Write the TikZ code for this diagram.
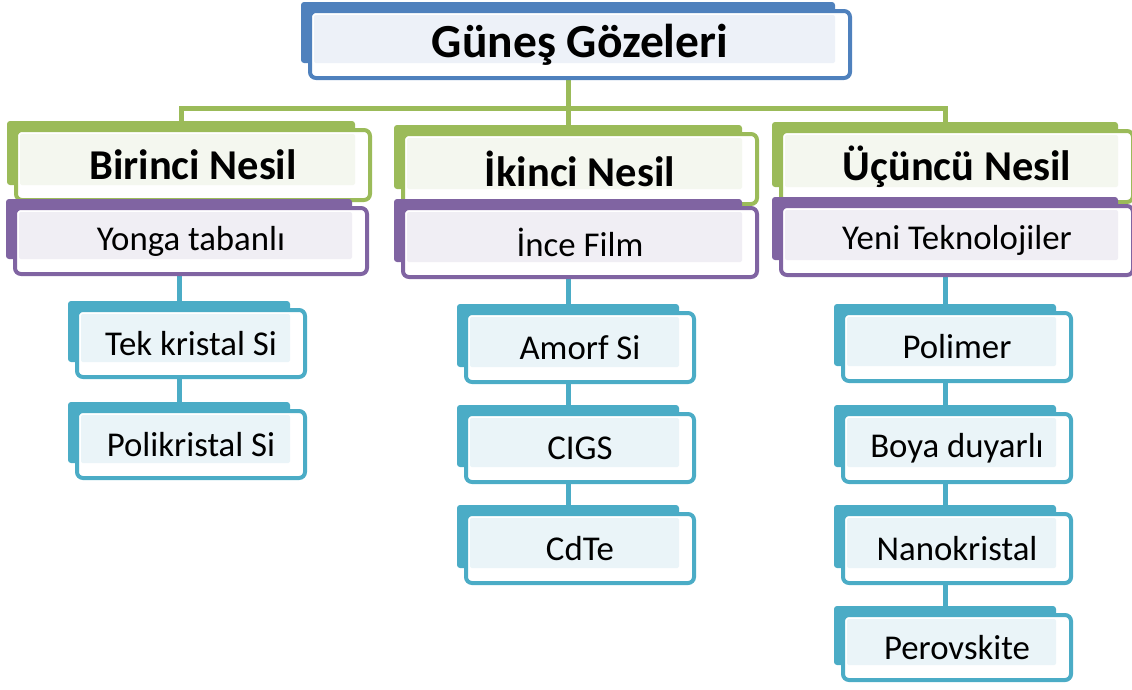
\documentclass[tikz,border=0pt]{standalone}
\usepackage{fontspec}
\setmainfont{Carlito}
\usetikzlibrary{backgrounds}
\definecolor{cBlue}{HTML}{4F81BD}
\definecolor{lBlue}{HTML}{EDF1F8}
\definecolor{cGreen}{HTML}{9BBB59}
\definecolor{lGreen}{HTML}{F4F7EF}
\definecolor{cPurple}{HTML}{8064A2}
\definecolor{lPurple}{HTML}{F0EEF4}
\definecolor{cAqua}{HTML}{4BACC6}
\definecolor{lAqua}{HTML}{EAF4F8}
\newcommand\ftop{\fontsize{47.5}{52}\selectfont\bfseries}
\newcommand\fgen{\fontsize{42.5}{46}\selectfont\bfseries}
\newcommand\fnorm{\fontsize{34.8}{38}\selectfont}
\tikzset{
  backshape/.style={rectangle, rounded corners=3pt, inner sep=0pt, outer sep=0pt},
  frontshape/.style={rectangle, rounded corners=6pt, line width=4pt, fill=white, inner sep=0pt, outer sep=0pt, text=black},
  gline/.style={draw=cGreen, line width=5pt},
  aline/.style={draw=cAqua, line width=5pt},
}
% name, colour, light colour, left, top, right, bottom, text
\newcommand\smbox[8]{%
  \node[backshape, fill=#2, minimum width={(#6-#4)*1pt}, minimum height={(#7-#5)*1pt}] (#1b) at ({(#4+#6)/2},{(#5+#7)/2}) {};
  \node[frontshape, draw=#2, minimum width={(#6-#4+6)*1pt}, minimum height={(#7-#5+6)*1pt},
    path picture={\fill[#3, rounded corners=2pt] ([xshift=4pt,yshift=-4pt]path picture bounding box.north west) rectangle (#1b.south east);}]
    (#1) at ({(#4+#6)/2+12},{(#5+#7)/2+12}) {#8};
}
\begin{document}
\begin{tikzpicture}[x=1pt,y=-1pt]
\useasboundingbox (0,0) rectangle (1132,689);
% top
\smbox{top}{cBlue}{lBlue}{301}{2}{835}{63}{\ftop Güneş Gözeleri}
% generations
\smbox{g1}{cGreen}{lGreen}{7}{121}{355}{185}{\fgen Birinci Nesil}
\smbox{g2}{cGreen}{lGreen}{394}{125}{742}{189}{\fgen İkinci Nesil}
\smbox{g3}{cGreen}{lGreen}{772}{122}{1118}{187}{\fgen Üçüncü Nesil}
% categories
\smbox{p1}{cPurple}{lPurple}{6}{199}{352}{259}{\fnorm Yonga tabanlı}
\smbox{p2}{cPurple}{lPurple}{394}{199}{742}{262}{\fnorm İnce Film}
\smbox{p3}{cPurple}{lPurple}{772}{197}{1118}{260}{\fnorm Yeni Teknolojiler}
% column 1
\smbox{a1}{cAqua}{lAqua}{68}{301}{290}{362}{\fnorm Tek kristal Si}
\smbox{a2}{cAqua}{lAqua}{68}{402}{290}{463}{\fnorm Polikristal Si}
% column 2
\smbox{b1}{cAqua}{lAqua}{457}{304}{679}{367}{\fnorm Amorf Si}
\smbox{b2}{cAqua}{lAqua}{457}{405}{679}{467}{\fnorm CIGS}
\smbox{b3}{cAqua}{lAqua}{457}{505}{679}{568}{\fnorm CdTe}
% column 3
\smbox{c1}{cAqua}{lAqua}{834}{304}{1056}{366}{\fnorm Polimer}
\smbox{c2}{cAqua}{lAqua}{834}{405}{1056}{467}{\fnorm Boya duyarlı}
\smbox{c3}{cAqua}{lAqua}{834}{505}{1056}{568}{\fnorm Nanokristal}
\smbox{c4}{cAqua}{lAqua}{834}{606}{1056}{665}{\fnorm Perovskite}
\begin{pgfonlayer}{background}
  \coordinate (hub) at (568,108);
  \draw[gline] (topb) -- (hub);
  \draw[gline] (hub) -| (g1b);
  \draw[gline] (hub) -- (g2b);
  \draw[gline] (hub) -| (g3b);
  \draw[aline] (p1b) -- (a1b);
  \draw[aline] (a1b) -- (a2b);
  \draw[aline] (p2b) -- (b1b);
  \draw[aline] (b1b) -- (b2b);
  \draw[aline] (b2b) -- (b3b);
  \draw[aline] (p3b) -- (c1b);
  \draw[aline] (c1b) -- (c2b);
  \draw[aline] (c2b) -- (c3b);
  \draw[aline] (c3b) -- (c4b);
\end{pgfonlayer}
\end{tikzpicture}
\end{document}
